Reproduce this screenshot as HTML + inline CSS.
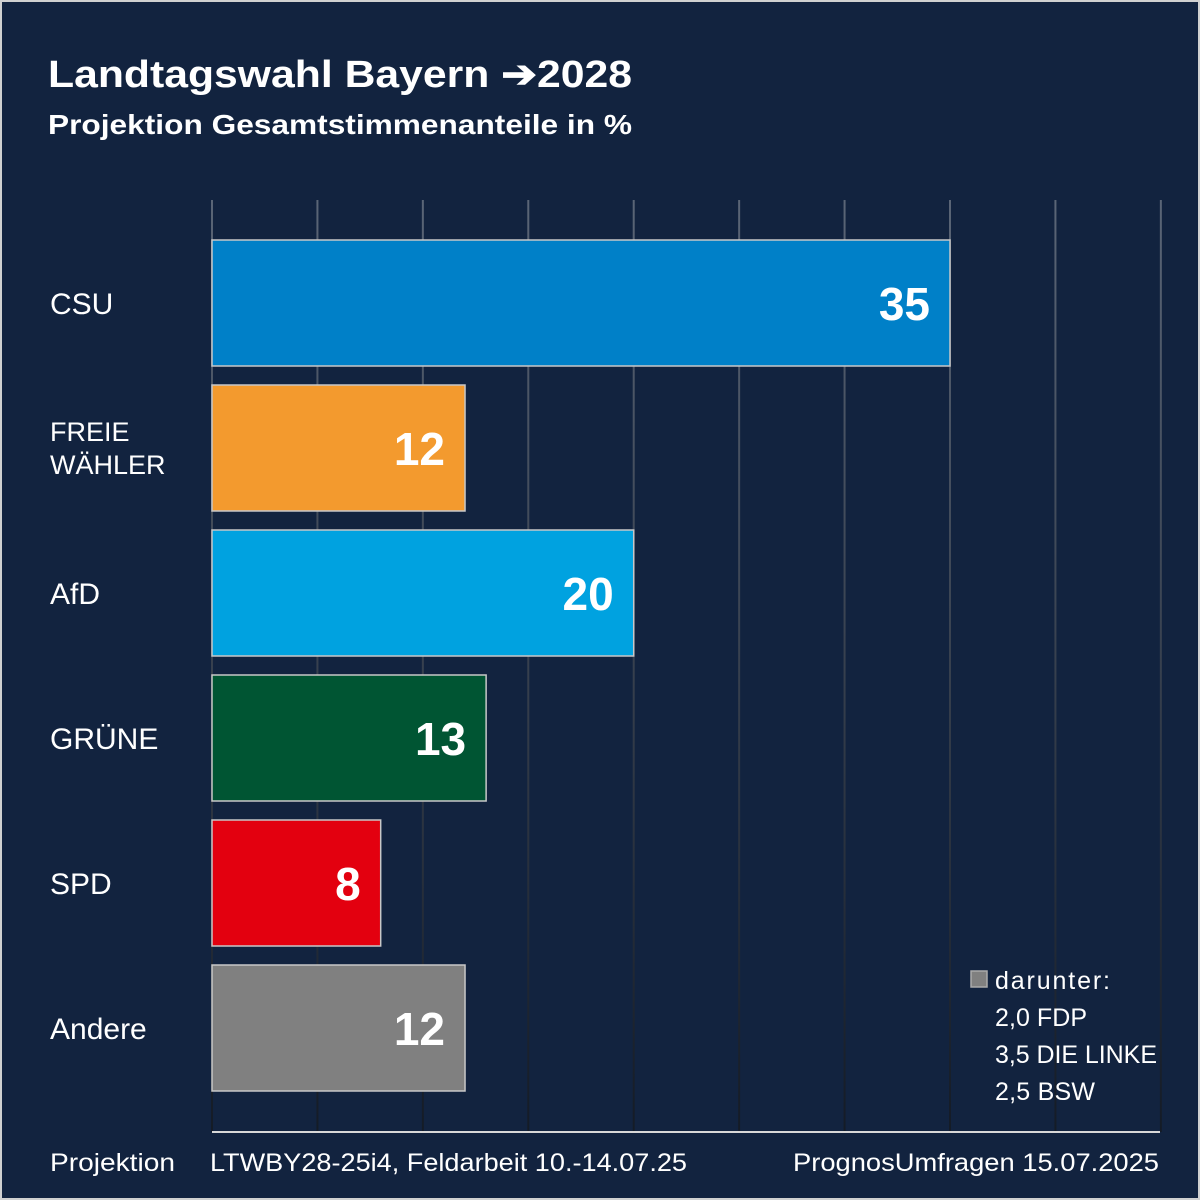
<!DOCTYPE html>
<html><head><meta charset="utf-8"><style>
html,body{margin:0;padding:0;background:#d0d0d0;}
svg{display:block;font-family:"Liberation Sans",sans-serif;}
</style></head><body>
<svg id="chart" width="1200" height="1200" viewBox="0 0 1200 1200">
<defs><linearGradient id="gg" x1="0" y1="200" x2="0" y2="1132" gradientUnits="userSpaceOnUse"><stop offset="0" stop-color="#5a6576"/><stop offset="1" stop-color="#141b26"/></linearGradient></defs>
<rect x="2" y="2" width="1196" height="1196" fill="#12233f"/>
<text x="48" y="87" fill="#fff" font-size="38" font-weight="bold" textLength="584" lengthAdjust="spacingAndGlyphs">Landtagswahl Bayern ➔2028</text>
<text x="48" y="134" fill="#fff" font-size="28" font-weight="bold" textLength="584" lengthAdjust="spacingAndGlyphs">Projektion Gesamtstimmenanteile in %</text>
<g id="grid"></g><g id="bars"></g>
<line x1="212" y1="1132" x2="1160" y2="1132" stroke="#d8d8d8" stroke-width="2"/>
<rect x="971" y="971" width="16" height="16" fill="#808080" stroke="#aaa" stroke-width="1.5"/>
<g fill="#fff" font-size="25" lengthAdjust="spacingAndGlyphs">
<text x="995" y="989" textLength="115">darunter:</text>
<text x="995" y="1026" textLength="92">2,0 FDP</text>
<text x="995" y="1063" textLength="162">3,5 DIE LINKE</text>
<text x="995" y="1100" textLength="100">2,5 BSW</text>
</g>
<text x="50" y="1171" fill="#fff" font-size="25" textLength="125" lengthAdjust="spacingAndGlyphs">Projektion</text>
<text x="210" y="1171" fill="#fff" font-size="25" textLength="477" lengthAdjust="spacingAndGlyphs">LTWBY28-25i4, Feldarbeit 10.-14.07.25</text>
<text x="793" y="1171" fill="#fff" font-size="25" textLength="366" lengthAdjust="spacingAndGlyphs">PrognosUmfragen 15.07.2025</text>
</svg>
<script>
const categories = [["CSU"],["FREIE","WÄHLER"],["AfD"],["GRÜNE"],["SPD"],["Andere"]];
const values = [35,12,20,13,8,12];
const colors = ["#0080c8","#f39a2e","#00a2e0","#005533","#e3000f","#808080"];
const gridTicks = [0,5,10,15,20,25,30,35,40,45];
const NS="http://www.w3.org/2000/svg";
const x0=212, pxPer=(950-212)/35;
const xs=v=>x0+v*pxPer;
const barTop=i=>240+i*145;
const barH=126;
function mk(t,a,p){const e=document.createElementNS(NS,t);for(const k in a)e.setAttribute(k,a[k]);p.appendChild(e);return e;}
const grid=document.getElementById('grid'), bars=document.getElementById('bars');
gridTicks.forEach(t=>{
  const l=mk('line',{x1:xs(t),x2:xs(t),y1:200,y2:1132,stroke:'url(#gg)','stroke-width':2},grid);
  
  
});
values.forEach((v,i)=>{
  const y=barTop(i);
  const r=mk('rect',{x:x0,y:y,width:xs(v)-x0,height:barH,fill:colors[i],stroke:'#c8c8c8','stroke-width':1.5},bars);
  
  
  const vt=mk('text',{x:xs(v)-20,y:y+barH/2+17,fill:'#fff','font-size':46,'font-weight':'bold','text-anchor':'end'},bars);
  vt.textContent=v;
  
  
  const lines=categories[i];
  const lt=mk('text',{x:50,fill:'#fff','font-size':lines.length>1?27:30},bars);
  
  
  if(lines.length===1){lt.setAttribute('y',y+barH/2+11);lt.textContent=lines[0];}
  else lines.forEach((s,j)=>{const ts=mk('tspan',{x:50,y:y+barH/2-7+j*33},lt);ts.textContent=s;});
});
</script>
</body></html>
